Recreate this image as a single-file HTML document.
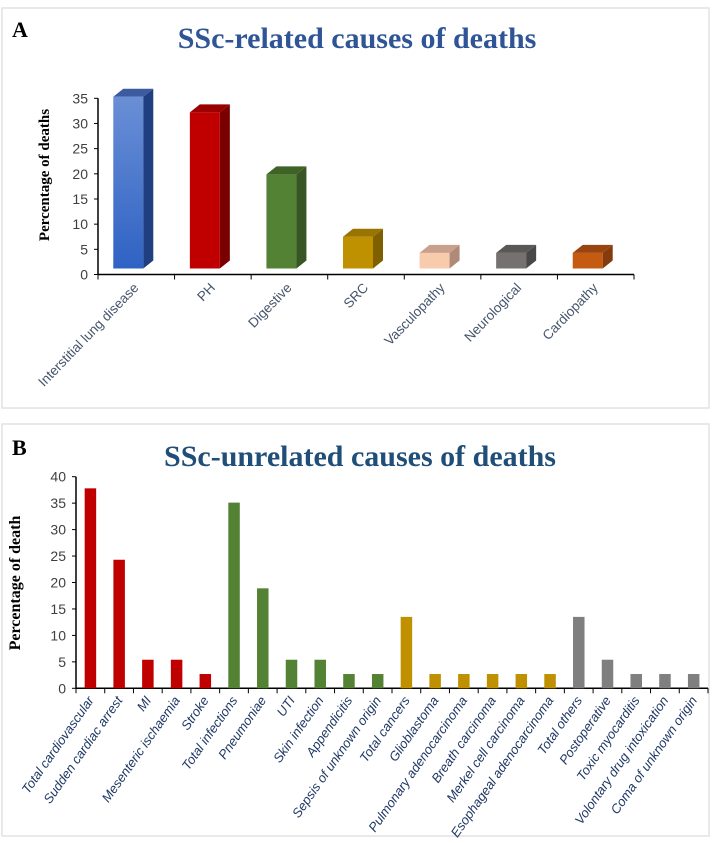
<!DOCTYPE html>
<html><head><meta charset="utf-8"><style>
body{margin:0;background:#fff;}
svg{display:block;font-family:"Liberation Sans",sans-serif;}
</style></head><body>
<svg width="712" height="843" viewBox="0 0 712 843">
<defs><linearGradient id="gBlue" x1="0" y1="0" x2="0" y2="1"><stop offset="0" stop-color="#6a8fd6"/><stop offset="1" stop-color="#2f62c4"/></linearGradient></defs>
<rect x="2" y="8" width="707" height="400" fill="#fff" stroke="#e2e2e2" stroke-width="1.5"/>
<rect x="2" y="424" width="707" height="412" fill="#fff" stroke="#e2e2e2" stroke-width="1.5"/>
<text x="12" y="37" font-family="Liberation Serif,serif" font-weight="bold" font-size="22">A</text>
<text x="357" y="48" text-anchor="middle" font-family="Liberation Serif,serif" font-weight="bold" font-size="30" fill="#2f5597">SSc-related causes of deaths</text>
<text x="12" y="455" font-family="Liberation Serif,serif" font-weight="bold" font-size="22">B</text>
<text x="360" y="466" text-anchor="middle" font-family="Liberation Serif,serif" font-weight="bold" font-size="30" fill="#1f4e79">SSc-unrelated causes of  deaths</text>
<g id="chartA"></g>
<g id="chartB"></g>
</svg>
<script>
const catsA=["Interstitial lung disease","PH","Digestive","SRC","Vasculopathy","Neurological","Cardiopathy"];
const valsA=[35.3,32.2,19.9,7.5,4.3,4.3,4.3];
const ticksA=[0,5,10,15,20,25,30,35];
const catsB=["Total cardiovascular","Sudden cardiac arrest","MI","Mesenteric ischaemia","Stroke","Total infections","Pneumoniae","UTI","Skin infection","Appendicitis","Sepsis of unknown origin","Total cancers","Glioblastoma","Pulmonary adenocarcinoma","Breath carcinoma","Merkel cell carcinoma","Esophageal adenocarcinoma","Total others","Postoperative","Toxic myocarditis","Volontary drug intoxication","Coma of unknown origin"];
const valsB=[37.8,24.3,5.4,5.4,2.7,35.1,18.9,5.4,5.4,2.7,2.7,13.5,2.7,2.7,2.7,2.7,2.7,13.5,5.4,2.7,2.7,2.7];
const groupB=[0,0,0,0,0,1,1,1,1,1,1,2,2,2,2,2,2,3,3,3,3,3];
const ticksB=[0,5,10,15,20,25,30,35,40];
const NS="http://www.w3.org/2000/svg";
function mk(p,t,a){const e=document.createElementNS(NS,t);for(const k in a)e.setAttribute(k,a[k]);p.appendChild(e);return e;}
// Chart A
(function(){
const g=document.getElementById('chartA');
const x0=98,x1=634,y0=274.5,y35=98.3;
const yA=v=>y0-(y0-y35)*v/35;
const bw=(x1-x0)/catsA.length;
const fronts=["url(#gBlue)","#c00000","#548235","#bf9000","#f8cbad","#767171","#c55a11"];
const sides=["#1f3f80","#7a0000","#375623","#7f6000","#b08a78","#4a4747","#843c0c"];
const tops=["#3b5aa0","#9a0000","#3f6327","#9a7400","#c9a08c","#5a5757","#9a4410"];
let ax=mk(g,'line',{x1:x0,y1:y0,x2:x1,y2:y0,stroke:'#000','stroke-width':1.5});

let ay=mk(g,'line',{x1:x0,y1:y0,x2:x0,y2:y35,stroke:'#000','stroke-width':1.5});

ticksA.forEach(t=>{const y=yA(t);
mk(g,'line',{x1:x0-4,y1:y,x2:x0,y2:y,stroke:'#000'});
const tx=mk(g,'text',{x:x0-10,y:y+5,'text-anchor':'end','font-size':14,fill:'#404040'});tx.textContent=t;
});
for(let i=0;i<=catsA.length;i++){const x=x0+i*bw;mk(g,'line',{x1:x,y1:y0,x2:x,y2:y0+5,stroke:'#000'});}
const yt=mk(g,'text',{x:0,y:0,transform:'translate(49,175) rotate(-90)','text-anchor':'middle','font-family':'Liberation Serif,serif','font-weight':'bold','font-size':15});
yt.textContent='Percentage of deaths';
catsA.forEach((c,i)=>{const cx=x0+i*bw+bw/2;const fx=cx-8,fw=30,d=10,dy=8;const top=yA(valsA[i]),bot=268.5;
const b=mk(g,'g',{});
mk(b,'rect',{x:fx-fw/2,y:top,width:fw,height:bot-top,fill:fronts[i]});
mk(b,'polygon',{points:`${fx+fw/2},${top} ${fx+fw/2+d},${top-dy} ${fx+fw/2+d},${bot-dy} ${fx+fw/2},${bot}`,fill:sides[i]});
mk(b,'polygon',{points:`${fx-fw/2},${top} ${fx-fw/2+d},${top-dy} ${fx+fw/2+d},${top-dy} ${fx+fw/2},${top}`,fill:tops[i]});
const l=mk(g,'text',{x:0,y:0,transform:`translate(${cx+3},${y0+14}) rotate(-46)`,'text-anchor':'end','font-size':13.5,fill:'#44546a'});
l.textContent=c;});
})();
// Chart B
(function(){
const g=document.getElementById('chartB');
const x0=76,x1=708,y0=688.3,y40=476.7;
const yB=v=>y0-(y0-y40)*v/40;
const bw=(x1-x0)/catsB.length;
const cols=["#c00000","#548235","#bf9000","#7f7f7f"];
let ax=mk(g,'line',{x1:x0,y1:y0,x2:x1,y2:y0,stroke:'#000','stroke-width':1.5});

let ay=mk(g,'line',{x1:x0,y1:y0,x2:x0,y2:y40,stroke:'#000','stroke-width':1.5});

ticksB.forEach(t=>{const y=yB(t);
mk(g,'line',{x1:x0-4,y1:y,x2:x0,y2:y,stroke:'#000'});
const tx=mk(g,'text',{x:x0-10,y:y+5,'text-anchor':'end','font-size':14,fill:'#404040'});tx.textContent=t;
});
for(let i=0;i<=catsB.length;i++){const x=x0+i*bw;mk(g,'line',{x1:x,y1:y0,x2:x,y2:y0+5,stroke:'#000'});}
const yt=mk(g,'text',{x:0,y:0,transform:'translate(20,583) rotate(-90)','text-anchor':'middle','font-family':'Liberation Serif,serif','font-weight':'bold','font-size':16});
yt.textContent='Percentage of death';
catsB.forEach((c,i)=>{const cx=x0+i*bw+bw/2;const top=yB(valsB[i]);
const r=mk(g,'rect',{x:cx-5.7,y:top,width:11.5,height:y0-top,fill:cols[groupB[i]]});

const l=mk(g,'text',{x:0,y:0,transform:`translate(${cx+4},${y0+12}) rotate(-55)`,'text-anchor':'end','font-size':13,'font-style':'italic',fill:'#1f3864'});
l.textContent=c;});
})();
</script>
</body></html>
